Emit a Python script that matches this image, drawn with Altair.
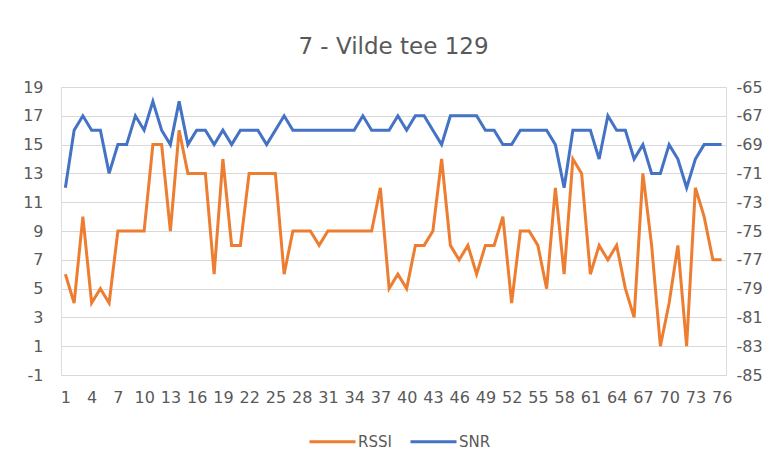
import altair as alt
import pandas as pd

idx = list(range(1, 77))
rssi = [
    -78, -80, -74, -80, -79, -80, -75, -75, -75, -75,
    -69, -69, -75, -68, -71, -71, -71, -78, -70, -76,
    -76, -71, -71, -71, -71, -78, -75, -75, -75, -76,
    -75, -75, -75, -75, -75, -75, -72, -79, -78, -79,
    -76, -76, -75, -70, -76, -77, -76, -78, -76, -76,
    -74, -80, -75, -75, -76, -79, -72, -78, -70, -71,
    -78, -76, -77, -76, -79, -81, -71, -76, -83, -80,
    -76, -83, -72, -74, -77, -77]
snr = [
    12, 16, 17, 16, 16, 13, 15, 15, 17, 16,
    18, 16, 15, 18, 15, 16, 16, 15, 16, 15,
    16, 16, 16, 15, 16, 17, 16, 16, 16, 16,
    16, 16, 16, 16, 17, 16, 16, 16, 17, 16,
    17, 17, 16, 15, 17, 17, 17, 17, 16, 16,
    15, 15, 16, 16, 16, 16, 15, 12, 16, 16,
    16, 14, 17, 16, 16, 14, 15, 13, 13, 15,
    14, 12, 14, 15, 15, 15]
x_ticks = list(range(1, 77, 3))
left_ticks = list(range(-1, 20, 2))
right_ticks = list(range(-85, -64, 2))
series_names = ["RSSI", "SNR"]
series_colors = ["#ED7D31", "#4472C4"]

df_rssi = pd.DataFrame({"n": idx, "value": rssi, "series": "RSSI"})
df_snr = pd.DataFrame({"n": idx, "value": snr, "series": "SNR"})

FONT = "DejaVu Sans"
GREY = "#595959"

x_enc = alt.X("n:Q", scale=alt.Scale(domain=[0.5, 76.5], nice=False, zero=False),
              axis=alt.Axis(values=x_ticks, title=None, grid=False, domain=False, ticks=False,
                            labelFont=FONT, labelFontSize=16, labelColor=GREY, labelPadding=14,
                            labelOverlap=False, labelFlush=False))

color_enc = alt.Color("series:N",
                      scale=alt.Scale(domain=series_names, range=series_colors),
                      legend=alt.Legend(title=None, orient="none", direction="horizontal",
                                        legendX=247, legendY=330,
                                        symbolType="stroke", symbolSize=2116, symbolStrokeWidth=3,
                                        labelFont=FONT, labelFontSize=15, labelColor=GREY,
                                        labelOffset=1, columnPadding=12))

snr_line = alt.Chart(df_snr).mark_line(strokeWidth=3).encode(
    x=x_enc,
    y=alt.Y("value:Q", scale=alt.Scale(domain=[-1, 19], nice=False, zero=False),
            axis=alt.Axis(orient="left", values=left_ticks, title=None, grid=True,
                          gridColor="#D9D9D9", gridWidth=1, domain=False, ticks=False,
                          labelExpr="toString(datum.value)",
                          labelFont=FONT, labelFontSize=16, labelColor=GREY, labelPadding=18)),
    color=color_enc,
)

rssi_line = alt.Chart(df_rssi).mark_line(strokeWidth=3).encode(
    x=x_enc,
    y=alt.Y("value:Q", scale=alt.Scale(domain=[-85, -65], nice=False, zero=False),
            axis=alt.Axis(orient="right", values=right_ticks, title=None, grid=False,
                          domain=False, ticks=False,
                          labelExpr="toString(datum.value)",
                          labelFont=FONT, labelFontSize=16, labelColor=GREY, labelPadding=10)),
    color=color_enc,
)

chart = alt.layer(rssi_line, snr_line).resolve_scale(y="independent").properties(
    width=665, height=288,
    autosize=alt.AutoSizeParams(type="none"),
    padding={"left": 53, "top": 79, "right": 36, "bottom": 74},
    title=alt.TitleParams("7 - Vilde tee 129", font=FONT, fontSize=23, fontWeight="normal",
                          color=GREY, anchor="middle", offset=20),
).configure_view(stroke=None).configure(background="white")

chart.save("out.html", embed_options={"renderer": "svg", "actions": False})
